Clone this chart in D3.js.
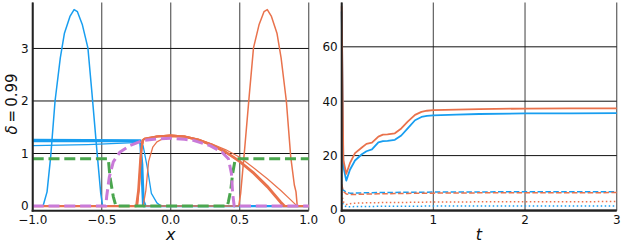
<!DOCTYPE html>
<html><head><meta charset="utf-8">
<script src="https://cdn.jsdelivr.net/npm/d3@7"></script>
<style>body{margin:0;background:#fff}svg{display:block}text{font-family:"DejaVu Sans",sans-serif}</style>
</head><body>
<svg id="c" width="623" height="249"></svg>
<script>
// ---------- Left panel data (x, value) ----------
const xTicks = [-1.0, -0.5, 0.0, 0.5, 1.0];
const xTickLabels = ["\u22121.0", "\u22120.5", "0.0", "0.5", "1.0"];
const yTicksL = [0, 1, 2, 3];
const yTickLabelsL = ["0", "1", "2", "3"];

const blueHump = [[-1,0],[-0.925,0],[-0.896,0.27],[-0.87,0.93],[-0.838,2.0],[-0.8,2.82],[-0.77,3.29],[-0.73,3.61],[-0.7,3.74],[-0.676,3.7],[-0.64,3.45],[-0.6,3.01],[-0.57,2.13],[-0.535,1.06],[-0.507,0.24],[-0.493,0],[1,0]];
const bluePlateau1 = [[-1,1.26],[-0.22,1.25],[-0.21,0.6],[-0.2,0],[1,0]];
const bluePlateau2 = [[-1,1.23],[-0.22,1.23],[-0.205,0.8],[-0.195,0.1],[-0.18,0],[1,0]];
const bluePlateau3 = [[-1,1.15],[-0.6,1.17],[-0.22,1.21],[-0.2,1.15],[-0.17,0.74],[-0.14,0.24],[-0.1,0.06],[-0.07,0],[1,0]];
const orangeHump = [[-1,0],[0.493,0],[0.507,0.24],[0.535,1.06],[0.57,2.13],[0.6,3.01],[0.64,3.45],[0.676,3.7],[0.7,3.74],[0.73,3.61],[0.77,3.29],[0.8,2.82],[0.838,2.0],[0.87,0.93],[0.896,0.4],[0.908,0.27],[0.917,0],[1,0]];
const orangeArc1 = [[-1,0],[-0.25,0],[-0.235,0.3],[-0.22,0.9],[-0.205,1.25],[-0.19,1.28],[-0.1,1.32],[0,1.34],[0.1,1.32],[0.2,1.26],[0.3,1.16],[0.4,1.02],[0.5,0.84],[0.6,0.62],[0.7,0.36],[0.8,0.05],[0.815,0],[1,0]];
const orangeArc2 = [[-1,0],[-0.245,0],[-0.23,0.35],[-0.215,1.0],[-0.2,1.26],[-0.185,1.29],[-0.1,1.325],[0,1.345],[0.1,1.325],[0.2,1.27],[0.3,1.17],[0.4,1.035],[0.5,0.86],[0.6,0.645],[0.7,0.39],[0.8,0.08],[0.83,0],[1,0]];
const orangeArc3 = [[-1,0],[-0.24,0],[-0.225,0.4],[-0.21,1.1],[-0.195,1.27],[-0.1,1.33],[0,1.35],[0.1,1.33],[0.2,1.27],[0.3,1.18],[0.4,1.07],[0.5,0.93],[0.6,0.73],[0.7,0.52],[0.8,0.29],[0.9,0.04],[0.915,0],[1,0]];
const orangeLate = [[-1,0],[-0.2,0],[-0.18,0.3],[-0.16,0.85],[-0.13,1.12],[-0.1,1.22],[-0.05,1.29],[0,1.32],[0.1,1.31],[0.2,1.25],[0.3,1.15],[0.4,1.01],[0.5,0.85],[0.6,0.63],[0.7,0.37],[0.8,0.06],[0.82,0],[1,0]];
const greenDashed = [[-1,0.9],[-0.452,0.9],[-0.44,0.55],[-0.416,0.18],[-0.397,0],[0.41,0],[0.418,0.08],[0.435,0.3],[0.449,0.62],[0.466,0.87],[0.483,0.9],[1,0.9]];
const purpleDashed = [[-1,0],[-0.47,0],[-0.464,0.18],[-0.445,0.55],[-0.416,0.84],[-0.367,1.03],[-0.295,1.15],[-0.2,1.25],[-0.1,1.28],[0,1.29],[0.1,1.27],[0.164,1.25],[0.285,1.15],[0.37,1.03],[0.418,0.9],[0.44,0.62],[0.449,0.24],[0.46,0],[1,0]];

// ---------- Right panel data ----------
const tTicks = [0, 1, 2, 3];
const tTickLabels = ["0", "1", "2", "3"];
const yTicksR = [0, 20, 40, 60];
const yTickLabelsR = ["0", "20", "40", "60"];
const tVals = [0, 0.018, 0.05, 0.09, 0.145, 0.22, 0.27, 0.33, 0.4, 0.45, 0.5, 0.58, 0.65, 0.72, 0.8, 0.87, 0.93, 1.0, 1.25, 1.5, 2.0, 2.5, 3.0];
const orangeSolid = [74.9, 18.4, 13.3, 17.2, 20.9, 23.0, 24.3, 24.8, 27.0, 27.7, 27.8, 28.2, 30.0, 32.5, 35.0, 36.1, 36.5, 36.7, 36.9, 37.1, 37.3, 37.35, 37.4];
const blueSolid = [73.0, 16.0, 10.8, 14.8, 18.2, 20.5, 21.6, 22.3, 24.9, 25.3, 25.4, 25.8, 27.4, 30.0, 33.0, 34.2, 34.6, 34.8, 35.1, 35.3, 35.5, 35.55, 35.6];
const orangeDash = [9.5, 6.8, 5.9, 5.7, 5.7, 5.8, 5.85, 5.9, 5.95, 6.0, 6.0, 6.05, 6.1, 6.1, 6.15, 6.15, 6.2, 6.2, 6.25, 6.3, 6.3, 6.35, 6.4];
const blueDash = [8.0, 7.3, 6.5, 6.2, 6.2, 6.3, 6.3, 6.35, 6.4, 6.4, 6.45, 6.45, 6.5, 6.5, 6.5, 6.55, 6.55, 6.6, 6.6, 6.65, 6.7, 6.7, 6.7];
const orangeDot = [6.0, 3.0, 2.0, 2.3, 2.5, 2.6, 2.65, 2.7, 2.7, 2.75, 2.75, 2.8, 2.8, 2.8, 2.85, 2.85, 2.9, 2.9, 2.95, 3.0, 3.0, 3.05, 3.1];
const blueDot = [4.0, 1.8, 1.2, 1.2, 1.25, 1.3, 1.3, 1.3, 1.35, 1.35, 1.35, 1.4, 1.4, 1.4, 1.4, 1.4, 1.45, 1.45, 1.45, 1.5, 1.5, 1.5, 1.5];

const BLUE = "#189ef0", ORANGE = "#e9724c", GREEN = "#4aa64e", PURPLE = "#c97ad8";

const svg = d3.select("#c");
const topY = 2.5, botY = 210.7;

function panel(x0, x1, xDom, yDom, xT, xTL, yT, yTL) {
  const g = svg.append("g");
  const x = d3.scaleLinear().domain(xDom).range([x0, x1]);
  const y = d3.scaleLinear().domain(yDom).range([botY, topY]);
  g.selectAll(".vg").data(xT).join("line")
    .attr("x1", d => x(d)).attr("x2", d => x(d)).attr("y1", topY).attr("y2", botY)
    .attr("stroke", "#6a6a6a").attr("stroke-width", 1.3);
  g.selectAll(".hg").data(yT).join("line")
    .attr("x1", x0).attr("x2", x1).attr("y1", d => y(d)).attr("y2", d => y(d))
    .attr("stroke", "#111").attr("stroke-width", 1);
  g.selectAll(".xl").data(xT).join("text")
    .attr("x", d => x(d)).attr("y", 223.5).attr("text-anchor", "middle")
    .attr("font-size", 12).attr("fill", "#111").text((d, i) => xTL[i]);
  g.selectAll(".yl").data(yT).join("text")
    .attr("x", x0 - 4).attr("y", d => y(d) + 4.3).attr("text-anchor", "end")
    .attr("font-size", 12).attr("fill", "#111").text((d, i) => yTL[i]);
  return {g, x, y, x0, x1};
}

function spines(p) {
  p.g.append("line").attr("x1", p.x0).attr("x2", p.x0).attr("y1", topY).attr("y2", botY + 1)
    .attr("stroke", "#222").attr("stroke-width", 2);
  p.g.append("line").attr("x1", p.x0 - 1).attr("x2", p.x1).attr("y1", botY).attr("y2", botY)
    .attr("stroke", "#222").attr("stroke-width", 2);
}

// Left panel
const L = panel(32.7, 308.7, [-1, 1], [-0.089, 3.875], xTicks, xTickLabels, yTicksL, yTickLabelsL);
const lineL = d3.line().x(d => L.x(d[0])).y(d => L.y(d[1]));
function drawL(data, color, w, dash) {
  const p = L.g.append("path").attr("d", lineL(data)).attr("fill", "none")
    .attr("stroke", color).attr("stroke-width", w).attr("stroke-linejoin", "round");
  if (dash) p.attr("stroke-dasharray", dash);
}
drawL(blueHump, BLUE, 1.5);
drawL(bluePlateau3, BLUE, 1.3);
drawL(bluePlateau2, BLUE, 1.8);
drawL(bluePlateau1, BLUE, 2.2);
drawL(orangeHump, ORANGE, 1.5);
drawL(orangeArc3, ORANGE, 1.2);
drawL(orangeLate, ORANGE, 1.3);
drawL(orangeArc2, ORANGE, 1.8);
drawL(orangeArc1, ORANGE, 2.2);
drawL(greenDashed, GREEN, 3, "11,4.8");
drawL(purpleDashed, PURPLE, 3, "11,4.8");
spines(L);

// Right panel
const R = panel(341.7, 616.7, [0, 3], [-0.26, 76.3], tTicks, tTickLabels, yTicksR, yTickLabelsR);
const lineR = d3.line().x((d, i) => R.x(tVals[i])).y(d => R.y(d));
function drawR(data, color, w, dash) {
  const p = R.g.append("path").attr("d", lineR(data)).attr("fill", "none")
    .attr("stroke", color).attr("stroke-width", w).attr("stroke-linejoin", "round");
  if (dash) p.attr("stroke-dasharray", dash);
}
drawR(blueDot, BLUE, 1.5, "1.5,2.5");
drawR(orangeDot, ORANGE, 1.5, "1.5,2.5");
drawR(blueDash, BLUE, 1.5, "5.5,2.4");
drawR(orangeDash, ORANGE, 1.5, "5.5,2.4");
drawR(blueSolid, BLUE, 1.8);
drawR(orangeSolid, ORANGE, 1.8);
spines(R);

// Axis labels
svg.append("text").attr("x", 170.7).attr("y", 240).attr("text-anchor", "middle")
  .attr("font-size", 16).attr("font-style", "italic").attr("fill", "#111").text("x");
svg.append("text").attr("x", 479).attr("y", 240).attr("text-anchor", "middle")
  .attr("font-size", 16).attr("font-style", "italic").attr("fill", "#111").text("t");
const yl = svg.append("text").attr("transform", "translate(16.5,104) rotate(-90)")
  .attr("text-anchor", "middle").attr("font-size", 15).attr("fill", "#111");
yl.append("tspan").attr("font-style", "italic").text("\u03b4");
yl.append("tspan").text("\u2009=\u20090.99");
</script>
</body></html>
